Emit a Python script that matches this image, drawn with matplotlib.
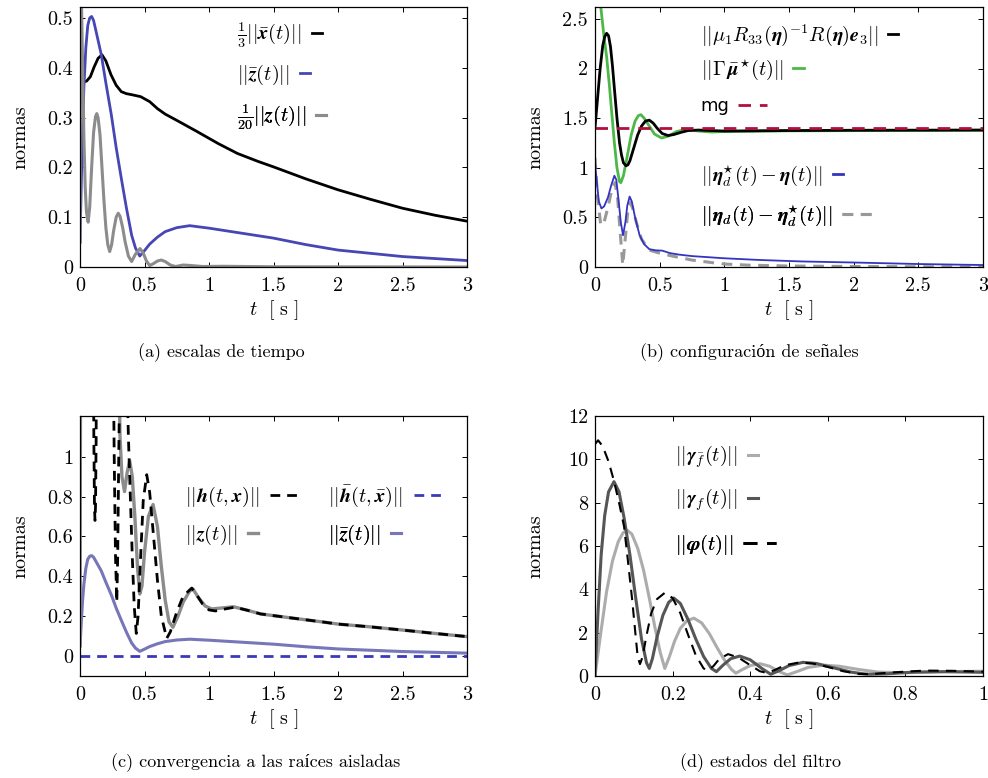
import matplotlib as mpl
mpl.use('Agg')
import matplotlib.pyplot as plt
from matplotlib.ticker import FormatStrFormatter, MultipleLocator

plt.rcParams['font.family'] = ['cmr10', 'Liberation Serif']
plt.rcParams['mathtext.fontset'] = 'cm'
plt.rcParams['axes.formatter.use_mathtext'] = True
plt.rcParams['axes.unicode_minus'] = False

# (a) escalas de tiempo
t_xbar = [0, 0.02, 0.05, 0.08, 0.11, 0.14, 0.17, 0.2, 0.24, 0.28, 0.32, 0.36, 0.4, 0.47,
          0.54, 0.6, 0.66, 0.76, 0.9, 1.07, 1.22, 1.38, 1.5, 1.75, 2.0, 2.25, 2.5, 2.75, 3.0]
v_xbar = [0.375, 0.372, 0.373, 0.382, 0.402, 0.419, 0.426, 0.414, 0.386, 0.365, 0.352, 0.348,
          0.346, 0.342, 0.332, 0.318, 0.307, 0.293, 0.273, 0.248, 0.228, 0.212, 0.201, 0.177,
          0.155, 0.136, 0.118, 0.104, 0.092]

t_zbar = [0, 0.01, 0.02, 0.03, 0.045, 0.06, 0.075, 0.09, 0.105, 0.12, 0.14, 0.165, 0.2, 0.243,
          0.28, 0.32, 0.36, 0.4, 0.43, 0.463, 0.5, 0.54, 0.6, 0.66, 0.75, 0.85, 1.0, 1.25, 1.5,
          1.75, 2.0, 2.5, 3.0]
v_zbar = [0.05, 0.17, 0.28, 0.36, 0.44, 0.485, 0.5, 0.503, 0.495, 0.478, 0.455, 0.426, 0.37,
          0.305, 0.24, 0.178, 0.118, 0.064, 0.038, 0.022, 0.033, 0.046, 0.06, 0.071, 0.079,
          0.083, 0.078, 0.068, 0.058, 0.045, 0.034, 0.021, 0.013]

t_z20 = [0, 0.004, 0.012, 0.02, 0.03, 0.04, 0.05, 0.063, 0.075, 0.09, 0.105, 0.12, 0.13, 0.14,
         0.155, 0.17, 0.185, 0.2, 0.215, 0.23, 0.245, 0.26, 0.28, 0.296, 0.31, 0.33, 0.35,
         0.375, 0.4, 0.43, 0.465, 0.49, 0.515, 0.54, 0.57, 0.6, 0.63, 0.66, 0.7, 0.74, 0.8,
         0.86, 0.95, 1.1, 1.5, 3.0]
v_z20 = [0.05, 0.9, 0.52, 0.4, 0.26, 0.16, 0.11, 0.09, 0.12, 0.2, 0.27, 0.302, 0.308, 0.3,
         0.265, 0.2, 0.135, 0.08, 0.045, 0.031, 0.045, 0.072, 0.1, 0.108, 0.102, 0.08, 0.05,
         0.022, 0.011, 0.026, 0.037, 0.028, 0.012, 0.003, 0.007, 0.012, 0.014, 0.011, 0.004,
         0.001, 0.004, 0.003, 0.001, 0.0015, 0.0005, 0.0]

# (b) configuracion de senales
t_mu = [0, 0.02, 0.04, 0.06, 0.075, 0.09, 0.105, 0.12, 0.135, 0.15, 0.17, 0.19, 0.205, 0.22,
        0.24, 0.255, 0.27, 0.3, 0.33, 0.36, 0.39, 0.42, 0.45, 0.48, 0.52, 0.565, 0.61, 0.66,
        0.72, 0.8, 1.0, 1.5, 2.0, 3.0]
v_mu = [1.40, 1.7, 2.0, 2.23, 2.32, 2.355, 2.33, 2.22, 2.03, 1.8, 1.5, 1.25, 1.13, 1.05,
        1.02, 1.03, 1.07, 1.2, 1.33, 1.42, 1.47, 1.48, 1.45, 1.4, 1.345, 1.325, 1.335, 1.355,
        1.375, 1.38, 1.37, 1.375, 1.378, 1.38]

t_gam = [0, 0.03, 0.045, 0.07, 0.09, 0.11, 0.13, 0.15, 0.17, 0.19, 0.2, 0.22, 0.25, 0.28,
         0.31, 0.335, 0.355, 0.38, 0.42, 0.46, 0.515, 0.57, 0.63, 0.7, 0.8, 0.9, 1.0, 1.5, 3.0]
v_gam = [3.5, 2.85, 2.62, 2.32, 2.12, 1.85, 1.55, 1.25, 1.0, 0.86, 0.85, 0.92, 1.12, 1.33,
         1.47, 1.525, 1.535, 1.5, 1.42, 1.34, 1.3, 1.32, 1.365, 1.385, 1.37, 1.36, 1.365,
         1.372, 1.378]

mg = 1.398

t_eta = [0, 0.015, 0.03, 0.05, 0.07, 0.1, 0.125, 0.15, 0.165, 0.18, 0.2, 0.217, 0.235, 0.25,
         0.268, 0.285, 0.31, 0.345, 0.38, 0.42, 0.47, 0.52, 0.58, 0.65, 0.75, 1.0, 1.27, 1.6,
         2.05, 2.5, 3.0]
v_eta = [1.05, 0.85, 0.66, 0.59, 0.61, 0.7, 0.82, 0.92, 0.88, 0.7, 0.45, 0.32, 0.45, 0.62,
         0.71, 0.66, 0.5, 0.32, 0.23, 0.18, 0.168, 0.165, 0.14, 0.125, 0.11, 0.088, 0.071,
         0.056, 0.044, 0.03, 0.02]

t_etad = [0, 0.02, 0.045, 0.07, 0.1, 0.13, 0.155, 0.175, 0.195, 0.215, 0.235, 0.255, 0.27,
          0.29, 0.32, 0.36, 0.42, 0.5, 0.6, 0.75, 0.9, 1.0, 1.2, 1.5, 2.0, 3.0]
v_etad = [1.1, 0.7, 0.42, 0.45, 0.6, 0.78, 0.85, 0.7, 0.35, 0.02, 0.3, 0.58, 0.65, 0.6, 0.45,
          0.28, 0.17, 0.14, 0.11, 0.07, 0.045, 0.03, 0.018, 0.01, 0.005, 0.0]

# (c) convergencia a las raices aisladas
t_z = [0, 0.004, 0.3, 0.31, 0.325, 0.345, 0.365, 0.385, 0.405, 0.425, 0.445, 0.463, 0.48, 0.5,
       0.53, 0.566, 0.6, 0.63, 0.66, 0.69, 0.72, 0.76, 0.8, 0.85, 0.876, 0.92, 0.97, 1.02,
       1.1, 1.19, 1.3, 1.4, 1.6, 1.9, 2.0, 2.25, 2.5, 2.75, 3.0]
v_z = [0.05, 1.5, 1.5, 1.1, 0.9, 0.825, 0.92, 0.98, 0.9, 0.7, 0.45, 0.31, 0.35, 0.52, 0.7,
       0.76, 0.65, 0.45, 0.28, 0.17, 0.143, 0.2, 0.27, 0.325, 0.335, 0.29, 0.25, 0.235, 0.24,
       0.246, 0.228, 0.21, 0.193, 0.168, 0.159, 0.145, 0.129, 0.112, 0.096]

t_h = [0, 0.1, 0.107, 0.112, 0.116, 0.12, 0.125, 0.13, 0.25, 0.265, 0.275, 0.285, 0.292, 0.3,
       0.31, 0.36, 0.375, 0.39, 0.405, 0.42, 0.436, 0.45, 0.47, 0.49, 0.517, 0.54, 0.57, 0.6,
       0.63, 0.672, 0.7, 0.75, 0.8, 0.866, 0.9, 0.95, 1.0, 1.05, 1.1, 1.2, 1.3, 1.4, 1.6,
       1.9, 2.0, 2.25, 2.5, 2.75, 3.0]
v_h = [2.0, 2.0, 1.1, 0.75, 0.68, 0.75, 1.1, 2.0, 2.0, 1.0, 0.5, 0.27, 0.5, 1.0, 1.5, 1.5,
       1.1, 0.8, 0.5, 0.25, 0.112, 0.2, 0.5, 0.78, 0.91, 0.82, 0.6, 0.38, 0.2, 0.087, 0.12,
       0.22, 0.3, 0.34, 0.31, 0.26, 0.23, 0.225, 0.232, 0.244, 0.228, 0.21, 0.193, 0.168,
       0.159, 0.145, 0.129, 0.112, 0.096]

t_hbar = [0, 3.0]
v_hbar = [0, 0]

# (d) estados del filtro
t_phi = [0, 0.008, 0.02, 0.035, 0.049, 0.062, 0.075, 0.085, 0.096, 0.104, 0.11, 0.116, 0.123,
         0.132, 0.145, 0.16, 0.18, 0.2, 0.22, 0.24, 0.26, 0.28, 0.29, 0.305, 0.32, 0.343,
         0.37, 0.4, 0.425, 0.441, 0.46, 0.49, 0.525, 0.56, 0.6, 0.64, 0.682, 0.72, 0.78,
         0.85, 0.92, 1.0]
v_phi = [10.7, 10.88, 10.6, 9.9, 9.0, 8.0, 6.9, 5.3, 3.5, 2.0, 0.9, 0.55, 0.9, 1.8, 2.9,
         3.55, 3.84, 3.6, 2.9, 1.9, 0.95, 0.35, 0.25, 0.45, 0.78, 1.01, 0.85, 0.5, 0.22,
         0.15, 0.25, 0.5, 0.62, 0.58, 0.42, 0.22, 0.09, 0.1, 0.18, 0.25, 0.24, 0.2]

t_gf = [0, 0.008, 0.016, 0.025, 0.035, 0.049, 0.062, 0.075, 0.09, 0.105, 0.12, 0.133, 0.14,
        0.148, 0.16, 0.175, 0.19, 0.203, 0.22, 0.24, 0.26, 0.28, 0.3, 0.313, 0.33, 0.35,
        0.373, 0.4, 0.43, 0.453, 0.475, 0.5, 0.536, 0.57, 0.61, 0.66, 0.7, 0.75, 0.82, 0.9,
        1.0]
v_gf = [0, 3.0, 5.6, 7.4, 8.5, 8.97, 8.5, 7.3, 5.6, 3.6, 1.7, 0.6, 0.35, 0.8, 1.8, 2.8, 3.4,
        3.6, 3.35, 2.6, 1.7, 0.9, 0.35, 0.2, 0.5, 0.8, 0.92, 0.75, 0.35, 0.08, 0.25, 0.48,
        0.63, 0.58, 0.4, 0.18, 0.08, 0.1, 0.18, 0.2, 0.17]

t_gfb = [0, 0.015, 0.03, 0.045, 0.06, 0.072, 0.083, 0.095, 0.11, 0.125, 0.14, 0.155, 0.168,
         0.18, 0.192, 0.205, 0.22, 0.237, 0.255, 0.275, 0.295, 0.315, 0.335, 0.352, 0.363,
         0.38, 0.4, 0.425, 0.45, 0.475, 0.496, 0.52, 0.55, 0.59, 0.63, 0.68, 0.73, 0.8, 0.9,
         1.0]
v_gfb = [0, 2.0, 3.9, 5.3, 6.2, 6.6, 6.73, 6.55, 5.9, 4.9, 3.6, 2.2, 1.1, 0.35, 0.9, 1.6, 2.2,
         2.55, 2.67, 2.45, 1.95, 1.3, 0.7, 0.3, 0.13, 0.3, 0.48, 0.57, 0.45, 0.2, 0.05, 0.2,
         0.4, 0.5, 0.45, 0.3, 0.18, 0.15, 0.2, 0.22]

FS = 14.5
DASH = (3.5, 2.5)


def key(ax, label, x, y, hlen, prop=None, **style):
    h, = ax.plot([], [], **style)
    leg = ax.legend([h], [label], loc='center left', bbox_to_anchor=(x, y),
                    bbox_transform=ax.transAxes, markerfirst=False, frameon=False,
                    handlelength=hlen, handletextpad=0.5, borderpad=0, borderaxespad=0,
                    prop=prop if prop else {'size': FS})
    ax.add_artist(leg)


def style_axes(ax, xmax, xstep, ymin, ymax, ystep):
    ax.set_xlim(0, xmax)
    ax.set_ylim(ymin, ymax)
    ax.xaxis.set_major_locator(MultipleLocator(xstep))
    ax.yaxis.set_major_locator(MultipleLocator(ystep))
    ax.xaxis.set_major_formatter(FormatStrFormatter('%g'))
    ax.yaxis.set_major_formatter(FormatStrFormatter('%g'))
    ax.tick_params(direction='in', top=True, right=True, length=3.6, width=0.7,
                   labelsize=FS, pad=5)
    ax.tick_params(axis='x', pad=7)
    ax.set_xlabel(r'$t\ \ [\ \mathrm{s}\ ]$', fontsize=FS)
    ax.set_ylabel('normas', fontsize=FS)
    ax.yaxis.set_label_coords(-0.13, 0.5)
    ax.xaxis.set_label_coords(0.5, -0.12)
    for s in ax.spines.values():
        s.set_linewidth(0.9)


fig = plt.figure(figsize=(9.88, 7.78), dpi=100)
ax1 = fig.add_axes([0.081, 0.6568, 0.3917, 0.3342])
ax2 = fig.add_axes([0.6022, 0.6568, 0.3927, 0.3342])
ax3 = fig.add_axes([0.081, 0.1311, 0.3917, 0.3342])
ax4 = fig.add_axes([0.6022, 0.1311, 0.3927, 0.3342])

# (a)
black = dict(color='black', lw=2)
blue_a = dict(color='#4646b4', lw=2)
gray_a = dict(color='#8c8c8c', lw=2.2)
ax1.plot(t_xbar, v_xbar, **black)
ax1.plot(t_zbar, v_zbar, **blue_a)
ax1.plot(t_z20, v_z20, **gray_a)
style_axes(ax1, 3, 0.5, 0, 0.522, 0.1)
key(ax1, r'$\frac{1}{3}||\bar{\mathbfit{x}}(t)||$', 0.406, 0.892, 0.5, **black)
key(ax1, r'$||\bar{\mathbfit{z}}(t)||$', 0.406, 0.738, 0.5, **blue_a)
key(ax1, r'$\frac{1}{20}||\mathbfit{z}(t)||$', 0.406, 0.577, 0.5, **gray_a)

# (b)
green = dict(color='#4cb848', lw=2)
red_d = dict(color='#b0103c', lw=2, ls='--', dashes=(4.5, 3.2))
blue_b = dict(color='#3434c0', lw=1.3)
gray_b = dict(color='#999999', lw=2.2, ls='--', dashes=DASH)
ax2.plot(t_gam, v_gam, **green)
ax2.plot(t_mu, v_mu, **black)
ax2.plot([0, 3], [mg, mg], **red_d)
ax2.plot(t_etad, v_etad, **gray_b)
ax2.plot(t_eta, v_eta, **blue_b)
style_axes(ax2, 3, 0.5, 0, 2.62, 0.5)
key(ax2, r'$||\mu_1 R_{33}(\mathbfit{\eta})^{-1}R(\mathbfit{\eta})\mathbfit{e}_3||$',
    0.272, 0.892, 0.5, **black)
key(ax2, r'$||\Gamma\,\bar{\mathbfit{\mu}}^{\star}(t)||$', 0.272, 0.758, 0.5, **green)
key(ax2, 'mg', 0.272, 0.619, 1.6, prop={'family': 'DejaVu Sans', 'size': 13}, **red_d)
key(ax2, r'$||\mathbfit{\eta}_d^{\star}(t)-\mathbfit{\eta}(t)||$', 0.272, 0.35, 0.5,
    **dict(blue_b, lw=2))
key(ax2, r'$||\mathbfit{\eta}_d(t)-\mathbfit{\eta}_d^{\star}(t)||$', 0.272, 0.196, 1.6,
    **gray_b)

# (c)
purple = dict(color='#7676b8', lw=2.2)
blue_c = dict(color='#3a3ab8', lw=2, ls='--', dashes=DASH)
gray_c = dict(color='#8c8c8c', lw=2.4)
black_d = dict(color='black', lw=2, ls='--', dashes=DASH)
ax3.plot(t_zbar, v_zbar, **purple)
ax3.plot(t_hbar, v_hbar, **blue_c)
ax3.plot(t_z, v_z, **gray_c)
ax3.plot(t_h, v_h, **black_d)
style_axes(ax3, 3, 0.5, -0.102, 1.205, 0.2)
ax3.set_yticks([0, 0.2, 0.4, 0.6, 0.8, 1.0])
key(ax3, r'$||\mathbfit{h}(t,\mathbfit{x})||$', 0.271, 0.69, 1.6, **black_d)
key(ax3, r'$||\bar{\mathbfit{h}}(t,\bar{\mathbfit{x}})||$', 0.642, 0.69, 1.6, **blue_c)
key(ax3, r'$||\mathbfit{z}(t)||$', 0.271, 0.542, 0.5, **gray_c)
key(ax3, r'$||\bar{\mathbfit{z}}(t)||$', 0.642, 0.542, 0.5, **purple)

# (d)
lgray = dict(color='#acacac', lw=2.2)
dgray = dict(color='#565656', lw=2.2)
black_d4 = dict(color='black', lw=1.5, ls='--', dashes=(5, 3.5))
ax4.plot(t_gfb, v_gfb, **lgray)
ax4.plot(t_gf, v_gf, **dgray)
ax4.plot(t_phi, v_phi, **black_d4)
style_axes(ax4, 1, 0.2, 0, 12, 2)
key(ax4, r'$||\mathbfit{\gamma}_{\bar{f}}(t)||$', 0.206, 0.843, 0.5, **lgray)
key(ax4, r'$||\mathbfit{\gamma}_f(t)||$', 0.206, 0.677, 0.5, **dgray)
key(ax4, r'$||\mathbfit{\varphi}(t)||$', 0.206, 0.504, 1.6, **dict(black_d4, lw=2))

CAP = 13
fig.text(221 / 988, 1 - 353 / 778, '(a) escalas de tiempo', ha='center', va='center', fontsize=CAP)
fig.text(749 / 988, 1 - 353 / 778, '(b) configuración de señales', ha='center', va='center',
         fontsize=CAP)
fig.text(256 / 988, 1 - 763 / 778, '(c) convergencia a las raíces aisladas', ha='center',
         va='center', fontsize=CAP)
fig.text(760 / 988, 1 - 763 / 778, '(d) estados del filtro', ha='center', va='center',
         fontsize=CAP)

fig.savefig('out.png', dpi=100)
